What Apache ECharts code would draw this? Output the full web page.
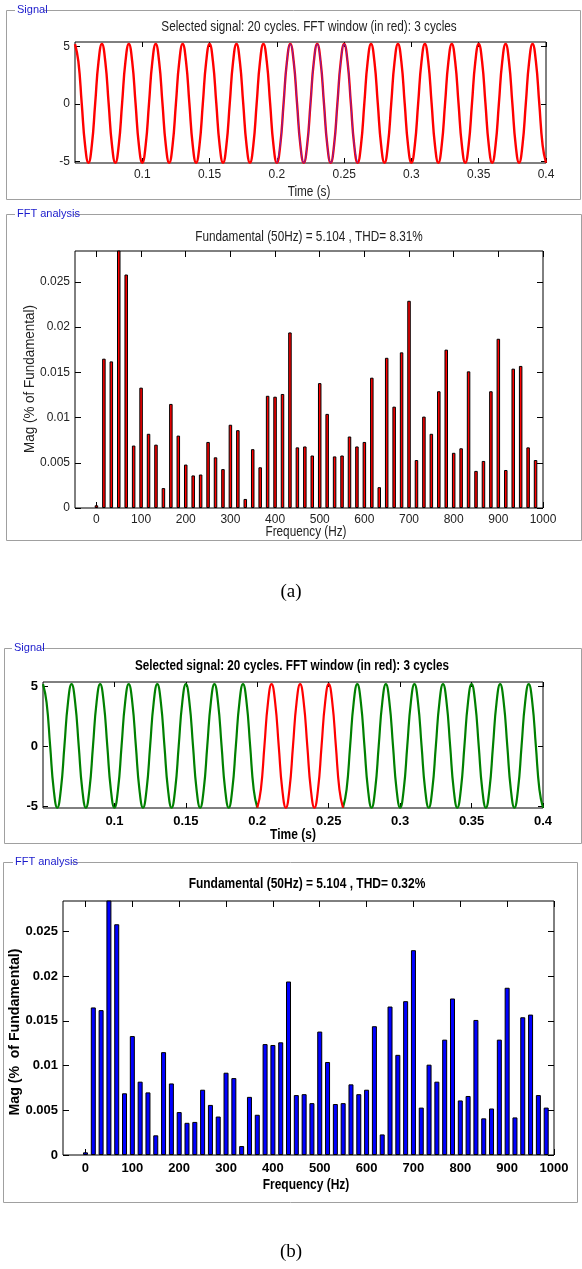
<!DOCTYPE html>
<html><head><meta charset="utf-8">
<script src="https://cdn.jsdelivr.net/npm/echarts@6/dist/echarts.min.js"></script>
<style>html,body{margin:0;padding:0;background:#fff}#c{width:582px;height:1269px}</style>
</head><body><div id="c"></div>
<script>
// ---------- data ----------
const sigTime = [
0.05,0.0525,0.055,0.0575,0.06,0.0625,0.065,0.0675,
0.07,0.0725,0.075,0.0775,0.08,0.0825,0.085,0.0875,
0.09,0.0925,0.095,0.0975,0.1,0.1025,0.105,0.1075,
0.11,0.1125,0.115,0.1175,0.12,0.1225,0.125,0.1275,
0.13,0.1325,0.135,0.1375,0.14,0.1425,0.145,0.1475,
0.15,0.1525,0.155,0.1575,0.16,0.1625,0.165,0.1675,
0.17,0.1725,0.175,0.1775,0.18,0.1825,0.185,0.1875,
0.19,0.1925,0.195,0.1975,0.2,0.2025,0.205,0.2075,
0.21,0.2125,0.215,0.2175,0.22,0.2225,0.225,0.2275,
0.23,0.2325,0.235,0.2375,0.24,0.2425,0.245,0.2475,
0.25,0.2525,0.255,0.2575,0.26,0.2625,0.265,0.2675,
0.27,0.2725,0.275,0.2775,0.28,0.2825,0.285,0.2875,
0.29,0.2925,0.295,0.2975,0.3,0.3025,0.305,0.3075,
0.31,0.3125,0.315,0.3175,0.32,0.3225,0.325,0.3275,
0.33,0.3325,0.335,0.3375,0.34,0.3425,0.345,0.3475,
0.35,0.3525,0.355,0.3575,0.36,0.3625,0.365,0.3675,
0.37,0.3725,0.375,0.3775,0.38,0.3825,0.385,0.3875,
0.39,0.3925,0.395,0.3975,0.4];
const sigVolt = [
5.2,3.69,0.05,-3.59,-5.1,-3.59,0.05,3.69,
5.2,3.69,0.05,-3.59,-5.1,-3.59,0.05,3.69,
5.2,3.69,0.05,-3.59,-5.1,-3.59,0.05,3.69,
5.2,3.69,0.05,-3.59,-5.1,-3.59,0.05,3.69,
5.2,3.69,0.05,-3.59,-5.1,-3.59,0.05,3.69,
5.2,3.69,0.05,-3.59,-5.1,-3.59,0.05,3.69,
5.2,3.69,0.05,-3.59,-5.1,-3.59,0.05,3.69,
5.2,3.69,0.05,-3.59,-5.1,-3.59,0.05,3.69,
5.2,3.69,0.05,-3.59,-5.1,-3.59,0.05,3.69,
5.2,3.69,0.05,-3.59,-5.1,-3.59,0.05,3.69,
5.2,3.69,0.05,-3.59,-5.1,-3.59,0.05,3.69,
5.2,3.69,0.05,-3.59,-5.1,-3.59,0.05,3.69,
5.2,3.69,0.05,-3.59,-5.1,-3.59,0.05,3.69,
5.2,3.69,0.05,-3.59,-5.1,-3.59,0.05,3.69,
5.2,3.69,0.05,-3.59,-5.1,-3.59,0.05,3.69,
5.2,3.69,0.05,-3.59,-5.1,-3.59,0.05,3.69,
5.2,3.69,0.05,-3.59,-5.1,-3.59,0.05,3.69,
5.2,3.69,0.05,-3.59,-5.1];
const fftWindowStart = 0.2;
const fftWindowEnd = 0.26;

const freqHz = [0,16.67,33.33,50,66.67,83.33,100,116.67,133.33,150,166.67,183.33,200,216.67,233.33,250,266.67,283.33,300,316.67,333.33,350,366.67,383.33,400,416.67,433.33,450,466.67,483.33,500,516.67,533.33,550,566.67,583.33,600,616.67,633.33,650,666.67,683.33,700,716.67,733.33,750,766.67,783.33,800,816.67,833.33,850,866.67,883.33,900,916.67,933.33,950,966.67,983.33];
const magPct = [0.0003,0.0165,0.0162,100,0.0258,0.0069,0.0133,0.0082,0.0070,0.0022,0.0115,0.0080,0.0048,0.0036,0.0037,0.0073,0.0056,0.0043,0.0092,0.0086,0.0010,0.0065,0.0045,0.0124,0.0123,0.0126,0.0194,0.0067,0.0068,0.0058,0.0138,0.0104,0.0057,0.0058,0.0079,0.0068,0.0073,0.0144,0.0023,0.0166,0.0112,0.0172,0.0229,0.0053,0.0101,0.0082,0.0129,0.0175,0.0061,0.0066,0.0151,0.0041,0.0052,0.0129,0.0187,0.0042,0.0154,0.0157,0.0067,0.0053];

const sigTicksX = [0.1,0.15,0.2,0.25,0.3,0.35,0.4];
const sigTicksY = [-5,0,5];
const fftTicksX = [0,100,200,300,400,500,600,700,800,900,1000];
const fftTicksY = [0,0.005,0.01,0.015,0.02,0.025];

const titleSigA = 'Selected signal: 20 cycles. FFT window (in red): 3 cycles';
const titleFftA = 'Fundamental (50Hz) = 5.104 , THD= 8.31%';
const titleSigB = 'Selected signal: 20 cycles. FFT window (in red): 3 cycles';
const titleFftB = 'Fundamental (50Hz) = 5.104 , THD= 0.32%';

// ---------- helpers ----------
const FONT = "'Liberation Sans',Arial,sans-serif";
const sigRange = [0.05, 0.4], sigY = [-5.12, 5.38];
const fftRange = [-48, 1000], fftY = [0, 0.0284];

function ax(g, rng, ticks, pos, labels, bold, tl, fs, margin) {
  return {type:'value', gridIndex:g, min:rng[0], max:rng[1], position:pos,
    axisLine:{show:false, onZero:false}, splitLine:{show:false},
    axisTick:{show:true, inside:true, length:tl, customValues:ticks, lineStyle:{color:'#000', width:1}},
    axisLabel:{show:labels, customValues:ticks, margin:margin, fontFamily:FONT, fontSize:fs,
      fontWeight:bold?'bold':'normal', color:bold?'#000':'#222', formatter:(v)=>String(v), hideOverlap:false}};
}
function txt(x, y, text, size, bold, color, sx, rot) {
  return {type:'text', x:x, y:y, rotation:rot||0, scaleX:sx||1, z:10,
    style:{text:text, fontFamily:FONT, fontSize:size, fontWeight:bold?'bold':'normal',
      fill:color||'#000', align:'center', verticalAlign:'middle'}};
}
function panel(x, y, w, h, label, lx, lw) {
  return [
    {type:'rect', shape:{x:x+0.5, y:y+0.5, width:w, height:h}, z:1,
      style:{fill:null, stroke:'#a0a0a0', lineWidth:1}},
    {type:'rect', shape:{x:lx-2, y:y-6, width:lw+4, height:12}, z:2, style:{fill:'#fff'}},
    {type:'text', x:lx, y:y, z:3, style:{text:label, fontFamily:FONT,
      fontSize:11, fill:'#1a1acc', align:'left', verticalAlign:'middle'}}
  ];
}

const full = sigTime.map((t,i)=>[t, sigVolt[i]]);
const inWin = sigTime.map((t,i)=>[t, (t>=fftWindowStart && t<=fftWindowEnd) ? sigVolt[i] : null]);
const outWin = sigTime.map((t,i)=>[t, (t<=fftWindowStart || t>=fftWindowEnd) ? sigVolt[i] : null]);
const bars = freqHz.map((f,i)=>[f, magPct[i]]);

const option = {
  backgroundColor:'#fff', animation:false,
  grid:[
    {left:75, top:42, width:471, height:121},
    {left:75, top:251, width:468, height:257},
    {left:43, top:682, width:500, height:126},
    {left:63, top:901, width:491, height:254}
  ].map(g=>Object.assign(g,{show:true, borderColor:'#000', borderWidth:1, backgroundColor:'#fff'})),
  xAxis:[
    ax(0, sigRange, sigTicksX, 'bottom', true, false, 5, 12, 6),
    ax(0, sigRange, sigTicksX, 'top', false, false, 5, 12, 6),
    ax(1, fftRange, fftTicksX, 'bottom', true, false, 6, 12, 6),
    ax(1, fftRange, fftTicksX, 'top', false, false, 6, 12, 6),
    ax(2, sigRange, sigTicksX, 'bottom', true, true, 5, 13, 7),
    ax(2, sigRange, sigTicksX, 'top', false, true, 5, 13, 7),
    ax(3, fftRange, fftTicksX, 'bottom', true, true, 6, 13, 7),
    ax(3, fftRange, fftTicksX, 'top', false, true, 6, 13, 7)
  ],
  yAxis:[
    ax(0, sigY, sigTicksY, 'left', true, false, 5, 12, 5),
    ax(0, sigY, sigTicksY, 'right', false, false, 5, 12, 5),
    ax(1, fftY, fftTicksY, 'left', true, false, 6, 12, 5),
    ax(1, fftY, fftTicksY, 'right', false, false, 6, 12, 5),
    ax(2, sigY, sigTicksY, 'left', true, true, 5, 13, 5),
    ax(2, sigY, sigTicksY, 'right', false, true, 5, 13, 5),
    ax(3, fftY, fftTicksY, 'left', true, true, 6, 13, 5),
    ax(3, fftY, fftTicksY, 'right', false, true, 6, 13, 5)
  ],
  series:[
    {type:'line', xAxisIndex:0, yAxisIndex:0, data:full, smooth:0.5, showSymbol:false,
      lineStyle:{color:'#ff0000', width:2.4}, z:3},
    {type:'line', xAxisIndex:0, yAxisIndex:0, data:inWin, smooth:0.5, showSymbol:false,
      lineStyle:{color:'#3333ff', width:1, opacity:0.7}, z:4},
    {type:'bar', xAxisIndex:2, yAxisIndex:2, data:bars, barWidth:3.5, clip:true,
      itemStyle:{color:'#ff0000', borderColor:'#000', borderWidth:1}},
    {type:'line', xAxisIndex:4, yAxisIndex:4, data:outWin, smooth:0.5, showSymbol:false,
      lineStyle:{color:'#008000', width:2.2}, z:3},
    {type:'line', xAxisIndex:4, yAxisIndex:4, data:inWin, smooth:0.5, showSymbol:false,
      lineStyle:{color:'#ff0000', width:2.2}, z:3},
    {type:'bar', xAxisIndex:6, yAxisIndex:6, data:bars, barWidth:5, clip:true,
      itemStyle:{color:'#0000ff', borderColor:'#000', borderWidth:1}}
  ],
  graphic:[].concat(
    panel(6, 10, 574, 189, 'Signal', 17, 25),
    panel(6, 214, 575, 326, 'FFT analysis', 17, 54),
    panel(4, 648, 577, 195, 'Signal', 14, 26),
    panel(3, 862, 574, 340, 'FFT analysis', 15, 54),
    [
      txt(309, 27, titleSigA, 14, false, '#222', 0.84),
      txt(309, 192, 'Time (s)', 14, false, '#222', 0.84),
      txt(309, 237, titleFftA, 14, false, '#222', 0.84),
      txt(306, 532, 'Frequency (Hz)', 14, false, '#222', 0.84),
      txt(30, 379, 'Mag (% of Fundamental)', 14, false, '#222', 0.96, Math.PI/2),
      txt(292, 666, titleSigB, 15, true, '#000', 0.78),
      txt(293, 835, 'Time (s)', 15, true, '#000', 0.8),
      txt(307, 884, titleFftB, 15, true, '#000', 0.8),
      txt(306, 1185, 'Frequency (Hz)', 15, true, '#000', 0.8),
      txt(15, 1032, 'Mag (%  of Fundamental)', 15, true, '#000', 0.94, Math.PI/2),
      {type:'text', x:291, y:592, style:{text:'(a)', fontFamily:"'Liberation Serif',serif", fontSize:19, fill:'#000', align:'center', verticalAlign:'middle'}},
      {type:'text', x:291, y:1252, style:{text:'(b)', fontFamily:"'Liberation Serif',serif", fontSize:19, fill:'#000', align:'center', verticalAlign:'middle'}}
    ]
  )
};
const chart = echarts.init(document.getElementById('c'), null, {renderer:'canvas'});
chart.setOption(option);
</script></body></html>
